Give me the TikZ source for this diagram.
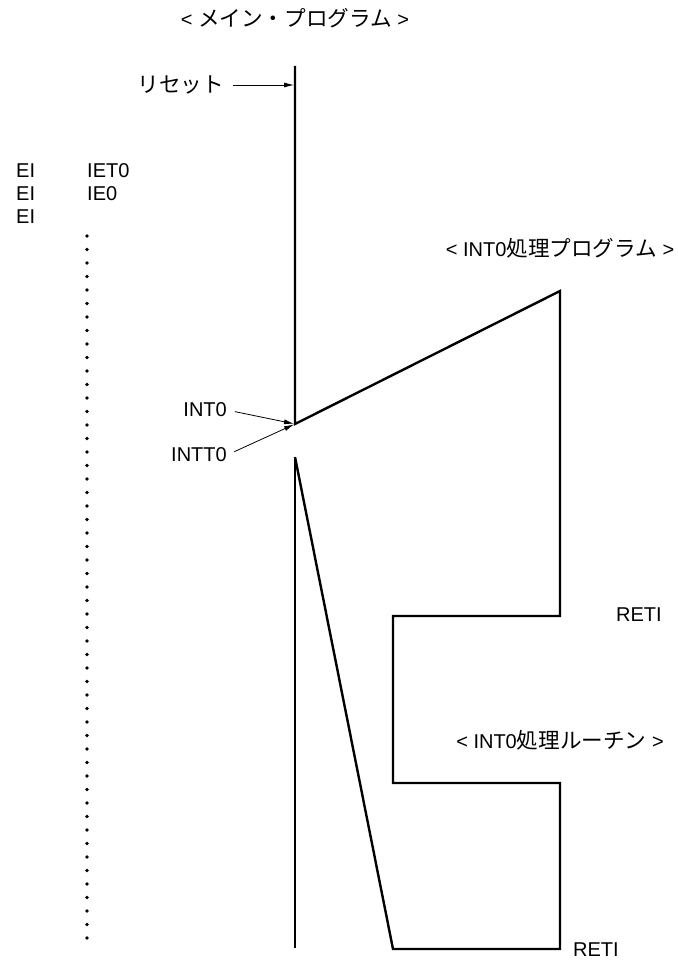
\documentclass[tikz,border=0pt]{standalone}
\usepackage{fontspec}
\setmainfont{Liberation Sans}
\newfontfamily\jpfont[Scale=1.08]{Noto Sans CJK JP}
\usetikzlibrary{positioning, arrows.meta, calc}
\tikzset{
  flowline/.style={
    line width=2.4pt,
    line join=miter
  },
  pointer/.style={
    -{Latex[length=10pt, width=5pt]},
    line width=0.8pt
  },
  lbl/.style={
    font=\fontsize{20}{22}\selectfont,
    inner sep=0pt
  },
  dotrow/.style={
    line width=3.6pt,
    line cap=round,
    dash pattern=on 0pt off 13.5pt
  }
}
\begin{document}
\begin{tikzpicture}[x=1pt, y=-1pt]
  \useasboundingbox (0,0) rectangle (677,960);

  % main program and interrupt flow
  \coordinate (mtop) at (295,66);
  \coordinate (irq) at (295,424);
  \coordinate (peak) at (560,291);
  \coordinate (ret1) at (560,616);
  \coordinate (in1) at (393,616);
  \coordinate (in2) at (393,783);
  \coordinate (out2) at (560,783);
  \coordinate (ret2) at (560,949);
  \coordinate (back) at (393,949);
  \coordinate (resume) at (295,457);
  \coordinate (mbot) at (295,948);

  \draw[flowline] (mtop) -- (irq) -- (peak) -- (ret1) -- (in1) -- (in2)
    -- (out2) -- (ret2) -- (back) -- (resume);
  \draw[flowline] (resume) -- (mbot);

  % labels
  \node[lbl] (title) at (295,18) {< {\jpfont メイン・プログラム} >};
  \node[lbl, anchor=east] (reset) at (224,85) {\jpfont リセット};
  \node[lbl, anchor=east] (int0) at (227,410) {INT0};
  \node[lbl, anchor=east] (intt0) at (227,455) {INTT0};
  \node[lbl] (prog) at (560,248) {< INT0{\jpfont 処理プログラム} >};
  \node[lbl, anchor=west] (reti1) at (616,615) {RETI};
  \node[lbl] (routine) at (560,740) {< INT0{\jpfont 処理ルーチン} >};
  \node[lbl, anchor=west] (reti2) at (573,950) {RETI};

  \node[lbl, anchor=west] (ei1) at (16,171) {EI};
  \node[lbl, anchor=west] (ei2) at (16,194) {EI};
  \node[lbl, anchor=west] (ei3) at (16,217) {EI};
  \node[lbl, anchor=west] (iet0) at (87,171) {IET0};
  \node[lbl, anchor=west] (ie0) at (87,194) {IE0};

  \coordinate (dtop) at (87,236);
  \coordinate (dbot) at (87,939);
  \draw[dotrow] (dtop) -- (dbot);

  % arrows
  \draw[pointer, shorten <=9pt, shorten >=1pt] (reset.east) -- (reset.east -| mtop);
  \draw[pointer, shorten <=8pt, shorten >=1pt] (int0.east) -- (irq);
  \draw[pointer, shorten <=8pt, shorten >=1pt] (intt0.east) -- (irq);
\end{tikzpicture}
\end{document}
